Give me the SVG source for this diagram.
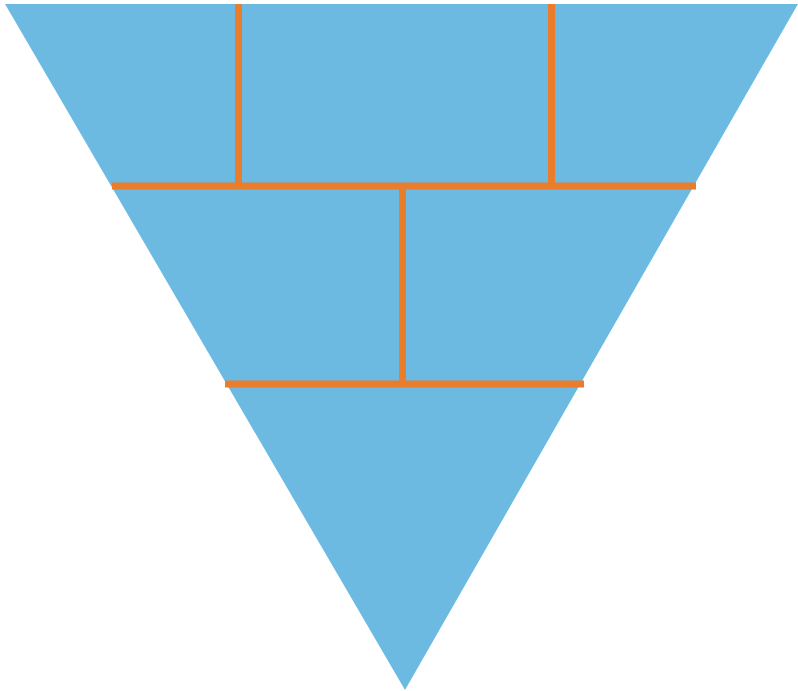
<svg xmlns="http://www.w3.org/2000/svg" width="798" height="691" viewBox="0 0 798 691">
<style>
.tri{fill:#6cbae2}
.div{stroke:#ea7d2b;stroke-width:7;fill:none}
</style>
<rect width="798" height="691" fill="#ffffff"/>
<g id="pyramid">
<polygon class="tri" points="5,4 798,4 405,690"/>
</g>
<g id="connectors">
<line class="div" x1="238.5" y1="4" x2="238.5" y2="186"/>
<line class="div" x1="551.5" y1="4" x2="551.5" y2="186"/>
<line class="div" x1="112" y1="186" x2="696" y2="186"/>
<line class="div" x1="402.5" y1="186" x2="402.5" y2="384"/>
<line class="div" x1="225" y1="384" x2="584" y2="384"/>
</g>
</svg>
